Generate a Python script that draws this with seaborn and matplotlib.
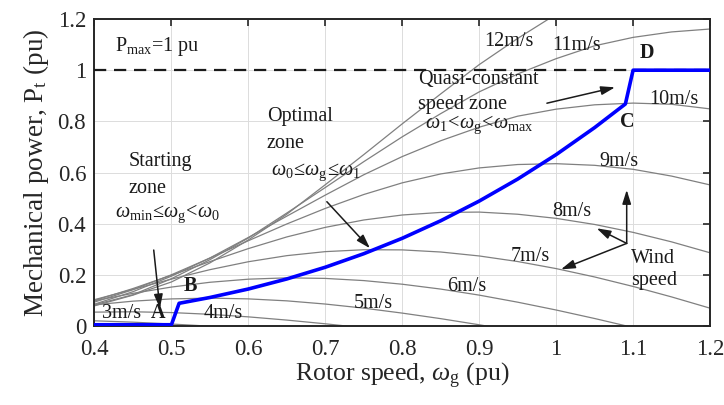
import numpy as np
import pandas as pd
import seaborn as sns
import matplotlib
matplotlib.use("Agg")
import matplotlib.pyplot as plt

nan = np.nan
# rotor speed grid (pu)
speed = [0.40, 0.45, 0.50, 0.55, 0.60, 0.65, 0.70, 0.75, 0.80, 0.85,
         0.90, 0.95, 1.00, 1.05, 1.10, 1.15, 1.20]
# mechanical power (pu) for each wind speed
P_3ms = [0.0204, 0.0151, 0.0078, -0.0007, nan, nan, nan, nan, nan, nan, nan, nan, nan, nan, nan, nan, nan]
P_4ms = [0.0543, 0.0557, 0.0526, 0.0458, 0.0358, 0.0232, 0.0087, -0.0072, nan, nan, nan, nan, nan, nan, nan, nan, nan]
P_5ms = [0.0828, 0.0972, 0.1060, 0.1091, 0.1061, 0.0984, 0.0859, 0.0699, 0.0505, 0.0288, 0.0049, -0.0205, nan, nan, nan, nan, nan]
P_6ms = [0.0988, 0.1277, 0.1523, 0.1710, 0.1831, 0.1883, 0.1861, 0.1776, 0.1634, 0.1444, 0.1208, 0.0932, 0.0626, 0.0294, -0.0058, nan, nan]
P_7ms = [0.1031, 0.1432, 0.1834, 0.2203, 0.2513, 0.2751, 0.2908, 0.2982, 0.2976, 0.2893, 0.2739, 0.2521, 0.2245, 0.1918, 0.1547, 0.1138, 0.0698]
P_8ms = [0.0997, 0.1465, 0.1985, 0.2518, 0.3027, 0.3483, 0.3857, 0.4145, 0.4340, 0.4441, 0.4454, 0.4370, 0.4209, 0.3970, 0.3661, 0.3290, 0.2863]
P_9ms = [0.0936, 0.1420, 0.2003, 0.2656, 0.3335, 0.3990, 0.4598, 0.5141, 0.5597, 0.5945, 0.6180, 0.6313, 0.6346, 0.6282, 0.6126, 0.5861, 0.5516]
P_10ms = [0.0855, 0.1342, 0.1948, 0.2659, 0.3463, 0.4296, 0.5118, 0.5913, 0.6624, 0.7243, 0.7772, 0.8203, 0.8477, 0.8647, 0.8714, 0.8668, 0.8488]
P_11ms = [0.0833, 0.1222, 0.1850, 0.2593, 0.3442, 0.4418, 0.5415, 0.6425, 0.7396, 0.8303, 0.9153, 0.9853, 1.0451, 1.0954, 1.1283, 1.1496, 1.1610]
P_12ms = [0.0789, 0.1207, 0.1722, 0.2467, 0.3366, 0.4372, 0.5525, 0.6701, 0.7904, 0.9074, 1.0218, 1.1242, 1.2185, 1.3018, nan, nan, nan]
wind_labels = ["3m/s", "4m/s", "5m/s", "6m/s", "7m/s", "8m/s", "9m/s", "10m/s", "11m/s", "12m/s"]

# operating (control) trajectory A-B-C-D
op_speed = [0.40, 0.50, 0.51, 0.55, 0.60, 0.65, 0.70, 0.75, 0.80, 0.85, 0.90,
            0.95, 1.00, 1.05, 1.09, 1.10, 1.20]
op_power = [0.005, 0.005, 0.0889, 0.1115, 0.1447, 0.1840, 0.2298, 0.2827, 0.3430,
            0.4115, 0.4884, 0.5744, 0.6700, 0.7756, 0.868, 1.0, 1.0]

x_ticks = [0.4, 0.5, 0.6, 0.7, 0.8, 0.9, 1.0, 1.1, 1.2]
x_tick_labels = ["0.4", "0.5", "0.6", "0.7", "0.8", "0.9", "1", "1.1", "1.2"]
y_ticks = [0, 0.2, 0.4, 0.6, 0.8, 1.0, 1.2]
y_tick_labels = ["0", "0.2", "0.4", "0.6", "0.8", "1", "1.2"]

sns.set_theme(style="white")
plt.rcParams["font.family"] = ["Liberation Serif", "DejaVu Serif"]
plt.rcParams["mathtext.fontset"] = "custom"
plt.rcParams["mathtext.rm"] = "Liberation Serif"
plt.rcParams["mathtext.it"] = "Liberation Serif:italic"
plt.rcParams["mathtext.bf"] = "Liberation Serif:bold"

series = [P_3ms, P_4ms, P_5ms, P_6ms, P_7ms, P_8ms, P_9ms, P_10ms, P_11ms, P_12ms]
rows = []
for lab, vals in zip(wind_labels, series):
    for w, p in zip(speed, vals):
        rows.append({"wind": lab, "speed": w, "power": p})
df = pd.DataFrame(rows).dropna()
df_op = pd.DataFrame({"speed": op_speed, "power": op_power})

fig = plt.figure(figsize=(7.24, 4.05), dpi=100)
ax = fig.add_axes([0.1305, 0.195, 0.8502, 0.758])

sns.lineplot(data=df, x="speed", y="power", hue="wind",
             palette=["#808080"] * len(wind_labels), legend=False,
             estimator=None, sort=False, lw=0.9, ax=ax)
ax.axhline(1.0, color="k", lw=1.6, ls=(0, (5.5, 3.5)), zorder=3)
sns.lineplot(data=df_op, x="speed", y="power", color="#0000ff", lw=2.6,
             estimator=None, sort=False, ax=ax, zorder=4)

ax.set_xlim(0.4, 1.2)
ax.set_ylim(0, 1.2)
ax.set_xticks(x_ticks)
ax.set_xticklabels(x_tick_labels)
ax.set_yticks(y_ticks)
ax.set_yticklabels(y_tick_labels)
ax.grid(True, color="#dcdcdc", lw=0.7)
ax.tick_params(direction="in", length=5, width=1.2, top=True, right=True,
               labelsize=16.5, colors="#262626", pad=6)
ax.tick_params(axis="x", pad=9)
for s in ax.spines.values():
    s.set_color("#262626")
    s.set_linewidth(1.4)
ax.set_xlabel(r"Rotor speed, $\omega_{\rm g}$ (pu)", fontsize=18.5, color="#262626", labelpad=1)
ax.set_ylabel(r"Mechanical power, P$_{\rm t}$ (pu)", fontsize=19.5, color="#262626", labelpad=5)

fs = 14.5
tc = "#1a1a1a"
ax.text(0.427, 1.092, r"P$_{\rm max}$=1 pu", fontsize=fs, color=tc, va="center", ha="left")
# wind speed labels
wl = [("3m/s", 0.435, 0.050), ("4m/s", 0.567, 0.050), ("5m/s", 0.763, 0.089),
      ("6m/s", 0.884, 0.154), ("7m/s", 0.966, 0.271), ("8m/s", 1.020, 0.447),
      ("9m/s", 1.082, 0.642), ("10m/s", 1.153, 0.887), ("11m/s", 1.027, 1.095),
      ("12m/s", 0.938, 1.111)]
for t, x, y in wl:
    ax.text(x, y, t, fontsize=fs, color=tc, ha="center", va="center")
# points
for t, x, y in [("A", 0.483, 0.050), ("B", 0.525, 0.156), ("C", 1.092, 0.799), ("D", 1.1185, 1.066)]:
    ax.text(x, y, t, fontsize=fs, fontweight="bold", color=tc, ha="center", va="center")

ax.text(0.444, 0.642, "Starting", fontsize=fs, color=tc, ha="left", va="center")
ax.text(0.444, 0.538, "zone", fontsize=fs, color=tc, ha="left", va="center")
ax.text(0.427, 0.44, r"$\omega_{\rm min}\!\leq\!\omega_{\rm g}\!<\!\omega_0$", fontsize=fs, color=tc, ha="left", va="center")

ax.text(0.624, 0.818, "Optimal", fontsize=fs, color=tc, ha="left", va="center")
ax.text(0.624, 0.714, "zone", fontsize=fs, color=tc, ha="left", va="center")
ax.text(0.630, 0.603, r"$\omega_0\!\leq\!\omega_{\rm g}\!\leq\!\omega_1$", fontsize=fs, color=tc, ha="left", va="center")

ax.text(0.821, 0.964, "Quasi-constant", fontsize=fs, color=tc, ha="left", va="center")
ax.text(0.821, 0.864, "speed zone", fontsize=fs, color=tc, ha="left", va="center")
ax.text(0.830, 0.786, r"$\omega_1\!<\!\omega_{\rm g}\!<\!\omega_{\rm max}$", fontsize=fs, color=tc, ha="left", va="center")

ax.text(1.097, 0.22, "Wind\nspeed", fontsize=fs, color=tc, ha="left", va="center", linespacing=1.25)

ap = dict(arrowstyle="-|>,head_length=0.7,head_width=0.22", color="k", lw=1.1,
          shrinkA=0, shrinkB=0)
arrows = [((0.477, 0.297), (0.485, 0.069)),
          ((0.702, 0.486), (0.758, 0.304)),
          ((0.988, 0.871), (1.0765, 0.933)),
          ((1.0917, 0.323), (1.0917, 0.532)),
          ((1.0917, 0.323), (1.0527, 0.382)),
          ((1.0917, 0.323), (1.0063, 0.2215))]
for (x0, y0), (x1, y1) in arrows:
    ax.annotate("", xy=(x1, y1), xytext=(x0, y0), arrowprops=ap, zorder=5)

fig.savefig("out.png", dpi=100)
